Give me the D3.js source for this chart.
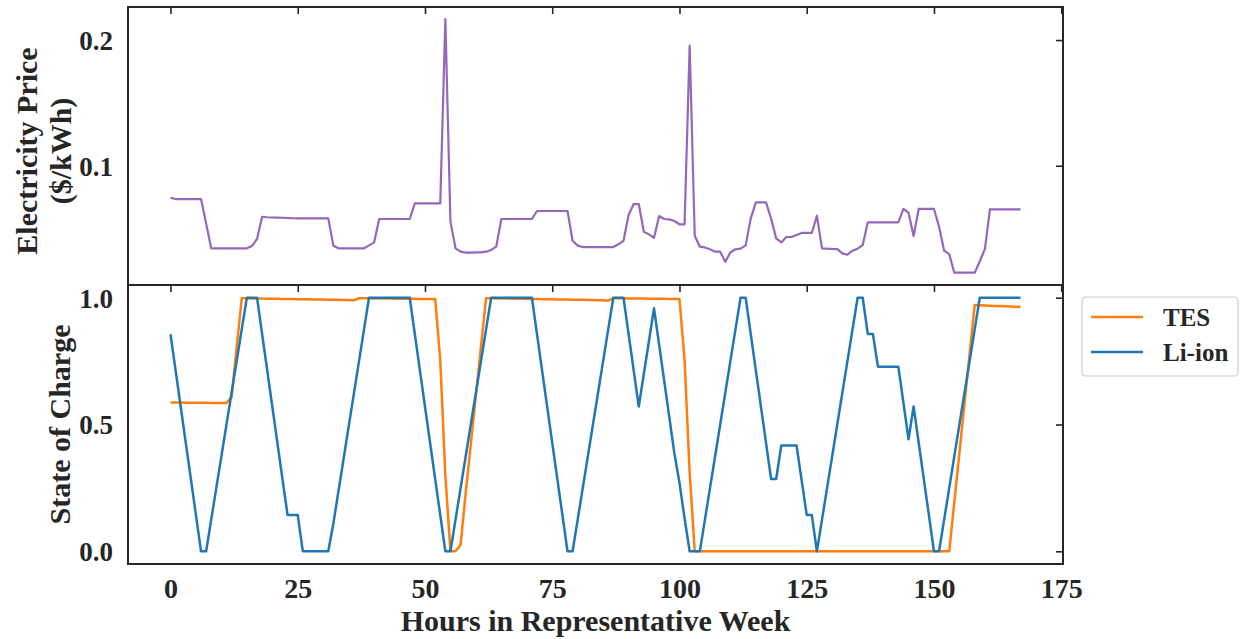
<!DOCTYPE html>
<html>
<head>
<meta charset="utf-8">
<script src="https://cdn.jsdelivr.net/npm/d3@7"></script>
<style>
  html, body { margin: 0; padding: 0; background: #ffffff; }
  svg { display: block; }
  text { font-family: "Liberation Serif", "Times New Roman", serif; font-weight: bold; fill: #262626; }
</style>
</head>
<body>
<svg id="chart" width="1244" height="639"></svg>
<script>
// Hourly electricity price ($/kWh), hours 0..167
const price = [
  0.0745, 0.0735, 0.0735, 0.0735, 0.0735, 0.0735, 0.0735, 0.0540, 0.0343, 0.0343, 0.0343, 0.0343,
  0.0343, 0.0343, 0.0343, 0.0343, 0.0361, 0.0417, 0.0594, 0.0590, 0.0588, 0.0587, 0.0586, 0.0584,
  0.0582, 0.0581, 0.0581, 0.0581, 0.0581, 0.0581, 0.0581, 0.0581, 0.0364, 0.0343, 0.0343, 0.0343,
  0.0343, 0.0343, 0.0343, 0.0366, 0.0390, 0.0576, 0.0576, 0.0576, 0.0576, 0.0576, 0.0576, 0.0576,
  0.0700, 0.0700, 0.0700, 0.0700, 0.0700, 0.0700, 0.2167, 0.0555, 0.0343, 0.0316, 0.0308, 0.0308,
  0.0310, 0.0310, 0.0316, 0.0330, 0.0356, 0.0576, 0.0576, 0.0576, 0.0576, 0.0576, 0.0576, 0.0576,
  0.0640, 0.0640, 0.0640, 0.0640, 0.0640, 0.0640, 0.0640, 0.0403, 0.0364, 0.0353, 0.0353, 0.0353,
  0.0353, 0.0353, 0.0353, 0.0353, 0.0375, 0.0403, 0.0608, 0.0695, 0.0695, 0.0475, 0.0454, 0.0427,
  0.0600, 0.0576, 0.0573, 0.0560, 0.0534, 0.0534, 0.1955, 0.0443, 0.0356, 0.0350, 0.0335, 0.0316,
  0.0316, 0.0236, 0.0310, 0.0335, 0.0340, 0.0366, 0.0580, 0.0709, 0.0709, 0.0709, 0.0579, 0.0422,
  0.0390, 0.0433, 0.0433, 0.0449, 0.0465, 0.0465, 0.0465, 0.0602, 0.0343, 0.0340, 0.0338, 0.0337,
  0.0303, 0.0292, 0.0324, 0.0340, 0.0369, 0.0550, 0.0550, 0.0550, 0.0550, 0.0550, 0.0550, 0.0550,
  0.0656, 0.0626, 0.0441, 0.0656, 0.0656, 0.0656, 0.0656, 0.0515, 0.0324, 0.0297, 0.0149, 0.0149,
  0.0149, 0.0149, 0.0149, 0.0240, 0.0337, 0.0653, 0.0653, 0.0653, 0.0653, 0.0653, 0.0653, 0.0653
];

// Thermal energy storage state of charge
const tesSoc = [
  0.587, 0.587, 0.587, 0.586, 0.586, 0.586, 0.586, 0.586, 0.585, 0.585, 0.585, 0.585,
  0.608, 0.803, 0.998, 0.998, 0.997, 0.997, 0.997, 0.996, 0.996, 0.996, 0.995, 0.995,
  0.995, 0.994, 0.994, 0.994, 0.993, 0.993, 0.993, 0.992, 0.992, 0.992, 0.991, 0.991,
  0.990, 0.998, 0.998, 0.998, 0.997, 0.997, 0.997, 0.997, 0.996, 0.996, 0.996, 0.996,
  0.996, 0.995, 0.995, 0.995, 0.995, 0.755, 0.300, 0.000, 0.000, 0.026, 0.231, 0.423,
  0.614, 0.806, 0.998, 0.998, 0.997, 0.997, 0.997, 0.996, 0.996, 0.996, 0.995, 0.995,
  0.995, 0.994, 0.994, 0.994, 0.993, 0.993, 0.993, 0.992, 0.992, 0.992, 0.991, 0.991,
  0.990, 0.990, 0.988, 0.998, 0.998, 0.998, 0.997, 0.997, 0.997, 0.997, 0.996, 0.996,
  0.996, 0.996, 0.995, 0.995, 0.995, 0.755, 0.310, 0.000, 0.000, 0.000, 0.000, 0.000,
  0.000, 0.000, 0.000, 0.000, 0.000, 0.000, 0.000, 0.000, 0.000, 0.000, 0.000, 0.000,
  0.000, 0.000, 0.000, 0.000, 0.000, 0.000, 0.000, 0.000, 0.000, 0.000, 0.000, 0.000,
  0.000, 0.000, 0.000, 0.000, 0.000, 0.000, 0.000, 0.000, 0.000, 0.000, 0.000, 0.000,
  0.000, 0.000, 0.000, 0.000, 0.000, 0.000, 0.000, 0.000, 0.000, 0.000, 0.194, 0.388,
  0.583, 0.777, 0.971, 0.970, 0.969, 0.968, 0.967, 0.967, 0.966, 0.965, 0.964, 0.964
];

// Li-ion battery state of charge
const liionSoc = [
  0.856, 0.714, 0.571, 0.428, 0.285, 0.143, 0.000, 0.000, 0.125, 0.250, 0.375, 0.500,
  0.625, 0.750, 0.875, 1.000, 1.000, 1.000, 0.857, 0.714, 0.571, 0.428, 0.285, 0.143,
  0.143, 0.143, 0.000, 0.000, 0.000, 0.000, 0.000, 0.000, 0.110, 0.237, 0.364, 0.491,
  0.618, 0.745, 0.872, 1.000, 1.000, 1.000, 1.000, 1.000, 1.000, 1.000, 1.000, 1.000,
  0.857, 0.714, 0.571, 0.428, 0.285, 0.143, 0.000, 0.000, 0.125, 0.250, 0.375, 0.500,
  0.625, 0.750, 0.875, 1.000, 1.000, 1.000, 1.000, 1.000, 1.000, 1.000, 1.000, 1.000,
  0.857, 0.714, 0.571, 0.428, 0.285, 0.143, 0.000, 0.000, 0.125, 0.250, 0.375, 0.500,
  0.625, 0.750, 0.875, 1.000, 1.000, 1.000, 0.857, 0.714, 0.571, 0.700, 0.829, 0.958,
  0.815, 0.672, 0.529, 0.386, 0.270, 0.130, 0.000, 0.000, 0.000, 0.125, 0.250, 0.375,
  0.500, 0.625, 0.750, 0.875, 1.000, 1.000, 0.857, 0.714, 0.571, 0.428, 0.285, 0.285,
  0.417, 0.417, 0.417, 0.417, 0.280, 0.143, 0.143, 0.000, 0.125, 0.250, 0.375, 0.500,
  0.625, 0.750, 0.875, 1.000, 1.000, 0.857, 0.857, 0.728, 0.728, 0.728, 0.728, 0.728,
  0.585, 0.442, 0.571, 0.428, 0.285, 0.143, 0.000, 0.000, 0.125, 0.250, 0.375, 0.500,
  0.625, 0.750, 0.875, 1.000, 1.000, 1.000, 1.000, 1.000, 1.000, 1.000, 1.000, 1.000
];

const hours = d3.range(price.length);

const xTicks = [0, 25, 50, 75, 100, 125, 150, 175];
const priceTicks = [0.1, 0.2];
const socTicks = [0.0, 0.5, 1.0];

const seriesNames = ["TES", "Li-ion"];
const seriesColors = ["#ff7f0e", "#1f77b4"];
const priceColor = "#9467bd";

const svg = d3.select("#chart");

const left = 128, right = 1063;
const top1 = 7, bot1 = 285, top2 = 285, bot2 = 564;

const x = d3.scaleLinear().domain([-8.35, 175.35]).range([left, right]);
const yPrice = d3.scaleLinear().domain([0.0051, 0.2263]).range([bot1, top1]);
const ySoc = d3.scaleLinear().domain([-0.05, 1.05]).range([bot2, top2]);

const spine = "#262626";

// clip paths for each panel
const defs = svg.append("defs");
defs.append("clipPath").attr("id", "clipTop").append("rect")
  .attr("x", left).attr("y", top1).attr("width", right - left).attr("height", bot1 - top1);
defs.append("clipPath").attr("id", "clipBot").append("rect")
  .attr("x", left).attr("y", top2).attr("width", right - left).attr("height", bot2 - top2);

// ---- price panel ----
const priceLine = d3.line().x(d => x(d)).y(d => yPrice(price[d]));
svg.append("path")
  .datum(hours)
  .attr("clip-path", "url(#clipTop)")
  .attr("fill", "none")
  .attr("stroke", priceColor)
  .attr("stroke-width", 2.2)
  .attr("stroke-linejoin", "round")
  .attr("d", priceLine);

// ---- state of charge panel ----
[tesSoc, liionSoc].forEach((vals, i) => {
  const line = d3.line().x(d => x(d)).y(d => ySoc(vals[d]));
  svg.append("path")
    .datum(hours)
    .attr("clip-path", "url(#clipBot)")
    .attr("fill", "none")
    .attr("stroke", seriesColors[i])
    .attr("stroke-width", 2.5)
    .attr("stroke-linejoin", "round")
    .attr("d", line);
});

// ---- axes ----
function styleAxis(g) {
  g.select(".domain").remove();
  g.selectAll(".tick line").attr("stroke", spine).attr("stroke-width", 1.6);
  g.selectAll("text").attr("fill", spine);
}

// inward x ticks along the top edge of each panel
[top1, top2].forEach(yy => {
  svg.append("g")
    .attr("transform", `translate(0,${yy})`)
    .call(d3.axisTop(x).tickValues(xTicks).tickSize(-7).tickFormat(""))
    .call(styleAxis);
});

// x tick labels under the lower panel
const xLab = svg.append("g")
  .attr("transform", `translate(0,${bot2})`)
  .call(d3.axisBottom(x).tickValues(xTicks).tickSize(0).tickFormat(d3.format("d")))
  .call(styleAxis);
xLab.selectAll(".tick line").remove();
xLab.selectAll("text")
  .attr("dy", null).attr("y", 34)
  .style("font-size", "28px")
  .style("font-family", "'Liberation Serif', serif")
  .style("font-weight", "bold");

// y tick labels on the left
function leftLabels(scale, ticks) {
  const g = svg.append("g")
    .attr("transform", `translate(${left},0)`)
    .call(d3.axisLeft(scale).tickValues(ticks).tickSize(0).tickPadding(15).tickFormat(d3.format(".1f")))
    .call(styleAxis);
  g.selectAll(".tick line").remove();
  g.selectAll("text")
    .attr("dy", "0.35em")
    .style("font-size", "27px")
    .style("font-family", "'Liberation Serif', serif")
    .style("font-weight", "bold");
}
leftLabels(yPrice, priceTicks);
leftLabels(ySoc, socTicks);

// inward y ticks along the right edge
[[yPrice, priceTicks], [ySoc, socTicks]].forEach(([scale, ticks]) => {
  svg.append("g")
    .attr("transform", `translate(${right},0)`)
    .call(d3.axisRight(scale).tickValues(ticks).tickSize(-7).tickFormat(""))
    .call(styleAxis);
});

// panel frames
[[top1, bot1], [top2, bot2]].forEach(([a, b]) => {
  svg.append("rect")
    .attr("x", left).attr("y", a)
    .attr("width", right - left).attr("height", b - a)
    .attr("fill", "none")
    .attr("stroke", spine)
    .attr("stroke-width", 2);
});

// ---- axis titles ----
const priceTitle = svg.append("text")
  .attr("transform", `translate(0,${(top1 + bot1) / 2 + 5}) rotate(-90)`)
  .attr("text-anchor", "middle")
  .style("font-size", "30px");
priceTitle.append("tspan").attr("x", 0).attr("y", 37).text("Electricity Price");
priceTitle.append("tspan").attr("x", 0).attr("y", 71).text("($/kWh)");

svg.append("text")
  .attr("transform", `translate(70,${(top2 + bot2) / 2}) rotate(-90)`)
  .attr("text-anchor", "middle")
  .style("font-size", "30px")
  .text("State of Charge");

svg.append("text")
  .attr("x", (left + right) / 2)
  .attr("y", 631)
  .attr("text-anchor", "middle")
  .style("font-size", "30px")
  .text("Hours in Representative Week");

// ---- legend ----
const legend = svg.append("g").attr("transform", "translate(1082,297)");
legend.append("rect")
  .attr("width", 156).attr("height", 79)
  .attr("rx", 4).attr("ry", 4)
  .attr("fill", "#ffffff")
  .attr("stroke", "#cccccc")
  .attr("stroke-width", 1.2);
seriesNames.forEach((name, i) => {
  const yy = 20 + i * 35;
  legend.append("line")
    .attr("x1", 9).attr("x2", 61)
    .attr("y1", yy).attr("y2", yy)
    .attr("stroke", seriesColors[i])
    .attr("stroke-width", 2.5);
  legend.append("text")
    .attr("x", 81).attr("y", yy + 9)
    .style("font-size", "25px")
    .text(name);
});
</script>
</body>
</html>
